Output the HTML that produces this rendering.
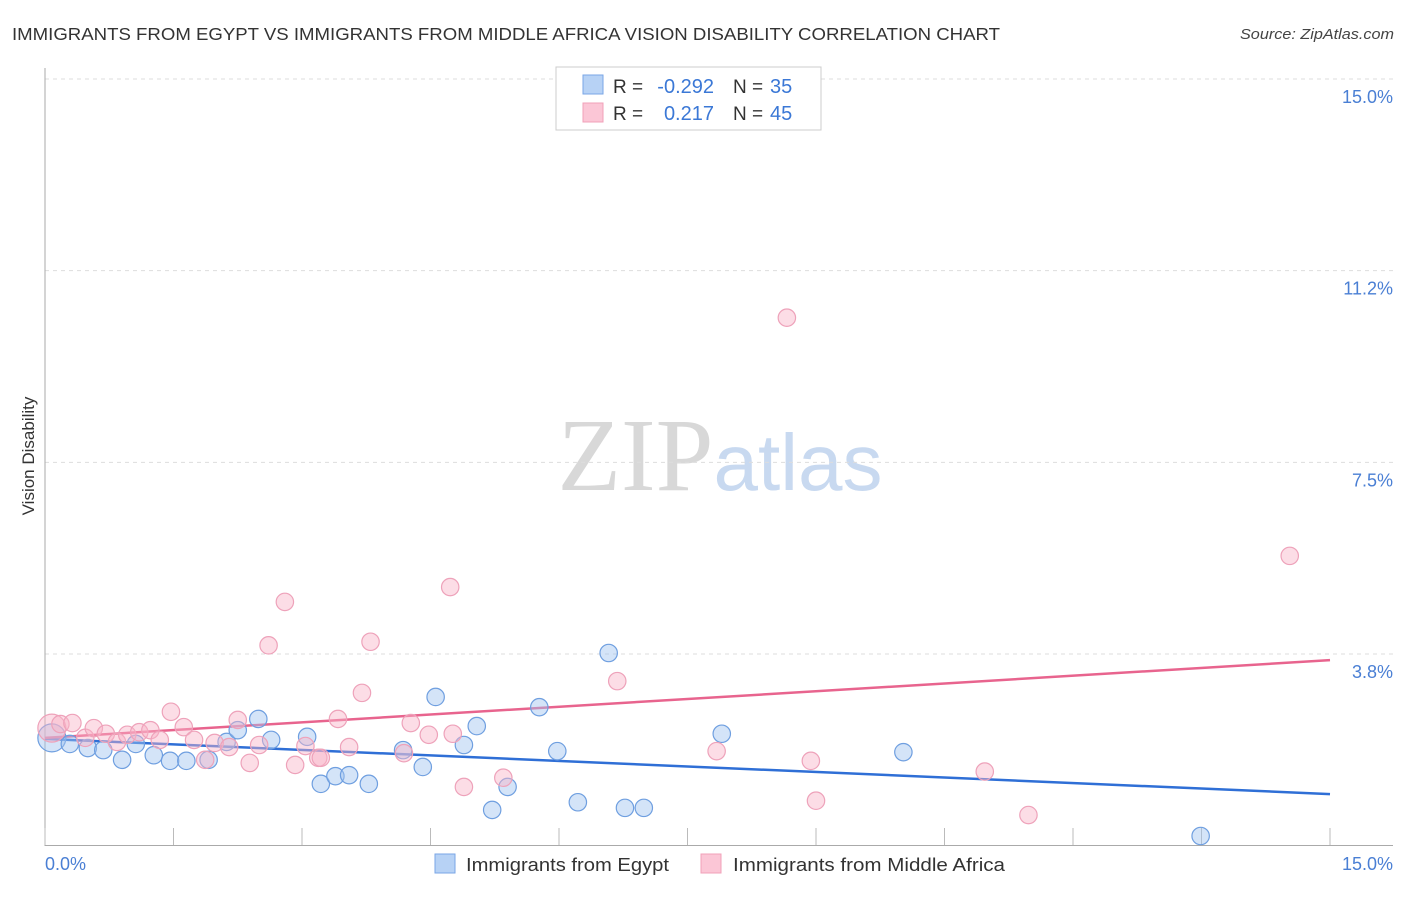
<!DOCTYPE html>
<html><head><meta charset="utf-8"><style>
body{margin:0;background:#fff;font-family:"Liberation Sans",sans-serif}
</style></head><body>
<svg id="chart" width="1406" height="892" xmlns="http://www.w3.org/2000/svg" font-family="Liberation Sans, sans-serif">
<text x="12" y="40" font-size="17.5" fill="#333" textLength="988" lengthAdjust="spacingAndGlyphs">IMMIGRANTS FROM EGYPT VS IMMIGRANTS FROM MIDDLE AFRICA VISION DISABILITY CORRELATION CHART</text>
<text x="1394" y="39" font-size="15" fill="#444" font-style="italic" text-anchor="end" textLength="154" lengthAdjust="spacingAndGlyphs">Source: ZipAtlas.com</text>
<text x="720" y="490" font-size="104" text-anchor="middle"><tspan font-family="Liberation Serif, serif" fill="#d8d8d8">ZIP</tspan><tspan fill="#c8d9f0" font-size="80">atlas</tspan></text>
<g id="grid"></g>
<line x1="45" y1="68" x2="45" y2="846" stroke="#aaa"/>
<line x1="45" y1="845.5" x2="1393" y2="845.5" stroke="#aaa"/>
<g id="xticks"></g>
<text transform="translate(34,456) rotate(-90)" font-size="17" fill="#333" text-anchor="middle">Vision Disability</text>
<text x="45" y="870" font-size="18" fill="#4a7fd4">0.0%</text>
<text x="1393" y="870" font-size="18" fill="#4a7fd4" text-anchor="end">15.0%</text>
<g id="trends"></g>
<g id="points"></g>
<g>
<rect x="556" y="67" width="265" height="63" fill="#fff" stroke="#ccc"/>
<rect x="583" y="75" width="20" height="19" fill="#b7d2f5" stroke="#7aa6e6"/>
<rect x="583" y="103" width="20" height="19" fill="#fbc6d6" stroke="#f0a0b8"/>
<text x="613" y="93" font-size="19" fill="#333">R =</text>
<text x="714" y="93" font-size="20" fill="#3b78d6" text-anchor="end">-0.292</text>
<text x="733" y="93" font-size="19" fill="#333">N =</text>
<text x="770" y="93" font-size="20" fill="#3b78d6">35</text>
<text x="613" y="120" font-size="19" fill="#333">R =</text>
<text x="714" y="120" font-size="20" fill="#3b78d6" text-anchor="end">0.217</text>
<text x="733" y="120" font-size="19" fill="#333">N =</text>
<text x="770" y="120" font-size="20" fill="#3b78d6">45</text>
</g>
<g>
<rect x="435" y="854" width="20" height="19" fill="#b7d2f5" stroke="#7aa6e6"/>
<text x="466" y="871" font-size="18" fill="#333" textLength="203" lengthAdjust="spacingAndGlyphs">Immigrants from Egypt</text>
<rect x="701" y="854" width="20" height="19" fill="#fbc6d6" stroke="#f0a0b8"/>
<text x="733" y="871" font-size="18" fill="#333" textLength="272" lengthAdjust="spacingAndGlyphs">Immigrants from Middle Africa</text>
</g>
</svg>
<script>
const yTicks=[3.75,7.5,11.25,15];
const yTickLabels=["3.8%","7.5%","11.2%","15.0%"];
const xTicks=[0,1.5,3,4.5,6,7.5,9,10.5,12,13.5,15];
const egyptX=[0.08,0.29,0.50,0.68,0.90,1.06,1.27,1.46,1.65,1.91,2.12,2.25,2.49,2.64,3.06,3.22,3.39,3.55,3.78,4.18,4.41,4.56,4.89,5.04,5.22,5.40,5.77,5.98,6.22,6.58,6.77,6.99,7.90,10.02,13.49];
const egyptY=[2.11,1.99,1.91,1.87,1.68,1.99,1.77,1.66,1.66,1.68,2.03,2.26,2.48,2.07,2.13,1.21,1.36,1.38,1.21,1.87,1.54,2.91,1.97,2.34,0.70,1.15,2.71,1.85,0.85,3.77,0.74,0.74,2.19,1.83,0.19];
const africaX=[0.08,0.18,0.32,0.47,0.57,0.71,0.84,0.96,1.10,1.23,1.34,1.47,1.62,1.74,1.87,1.98,2.15,2.25,2.39,2.50,2.61,2.80,2.92,3.04,3.19,3.22,3.42,3.55,3.70,3.80,4.19,4.27,4.48,4.73,4.76,4.89,5.35,6.68,7.84,8.66,8.94,9.00,10.97,11.48,14.53];
const africaY=[2.30,2.38,2.40,2.11,2.30,2.19,2.03,2.17,2.22,2.26,2.07,2.62,2.32,2.07,1.68,2.01,1.93,2.46,1.62,1.97,3.92,4.77,1.58,1.95,1.72,1.72,2.48,1.93,2.99,3.99,1.81,2.40,2.17,5.06,2.19,1.15,1.33,3.22,1.85,10.33,1.66,0.88,1.45,0.60,5.67];
const egyptTrend=[2.09,1.01];
const africaTrend=[2.11,3.63];
const NS="http://www.w3.org/2000/svg";
const X=v=>45+v/15*1285;
const Y=v=>845.7-v/15*766.7;
function mk(t,a,p){const e=document.createElementNS(NS,t);for(const k in a)e.setAttribute(k,a[k]);p.appendChild(e);return e;}
const grid=document.getElementById('grid');
yTicks.forEach((t,i)=>{
 const l=mk('line',{x1:45,x2:1393,y1:Y(t),y2:Y(t),stroke:'#ddd','stroke-dasharray':'4,4'},grid);
 
 
 const tx=mk('text',{x:1393,y:Y(t)+24,'font-size':18,fill:'#4a7fd4','text-anchor':'end'},grid);
 tx.textContent=yTickLabels[i];
 
 
});
const xt=document.getElementById('xticks');
xTicks.forEach(t=>{
 const l=mk('line',{x1:X(t),x2:X(t),y1:828,y2:845,stroke:'#bbb'},xt);
 
 
});
const tr=document.getElementById('trends');
const pts=document.getElementById('points');
function series(xs,ys,fill,stroke,name){
 xs.forEach((x,i)=>{
  const c=mk('circle',{cx:X(x),cy:Y(ys[i]),r:i===0?14:8.7,fill:fill,stroke:stroke,'stroke-width':1.2},pts);
  
  
 });
}
series(egyptX,egyptY,'rgba(160,196,240,0.45)','#6f9fe0','point-egypt');
series(africaX,africaY,'rgba(248,180,200,0.45)','#eea2ba','point-middle-africa');
const l1=mk('line',{x1:X(0),y1:Y(egyptTrend[0]),x2:X(15),y2:Y(egyptTrend[1]),stroke:'#2f6fd6','stroke-width':2.5},tr);


const l2=mk('line',{x1:X(0),y1:Y(africaTrend[0]),x2:X(15),y2:Y(africaTrend[1]),stroke:'#e8648e','stroke-width':2.5},tr);


</script>
</body></html>
